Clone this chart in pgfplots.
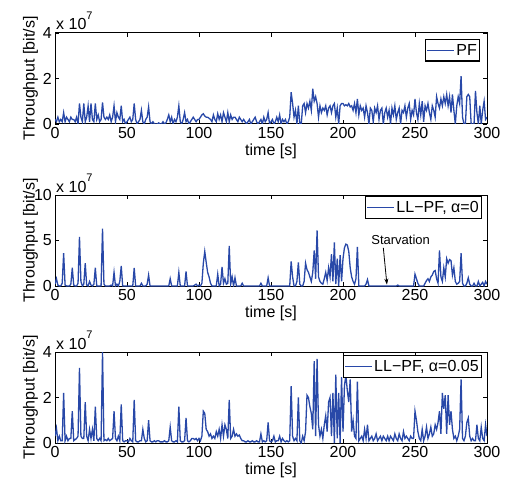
\documentclass[border=0pt]{standalone}
\usepackage{fontspec}
\setmainfont{Liberation Sans}
\usepackage{pgfplots}
\usepackage{pgfplotstable}
\pgfplotsset{compat=1.18}
\usetikzlibrary{arrows.meta}
\definecolor{mblue}{RGB}{40,72,168}

% throughput per second, in units of 1e7 bit/s, t = 0..300
\pgfplotstableread[header=false,row sep=\\]{
0.2\\0.1\\0.3\\0.1\\0.2\\0.1\\0.5\\0.1\\0.3\\0.2\\
0.1\\0.3\\0.2\\0.2\\0.1\\0.3\\0.0\\0.9\\0.3\\0.1\\
0.9\\0.1\\0.3\\0.8\\0.1\\0.9\\0.2\\0.1\\0.9\\0.2\\
0.4\\0.1\\0.2\\0.95\\0.3\\0.2\\0.3\\0.2\\0.4\\0.1\\
0.3\\0.8\\0.1\\0.5\\0.3\\0.2\\0.8\\0.1\\0.2\\0.0\\
0.1\\0.2\\0.3\\0.1\\0.2\\0.9\\0.2\\0.0\\0.1\\0.2\\
0.6\\0.1\\0.0\\0.2\\0.3\\0.75\\0.1\\0.0\\0.1\\0.0\\
0.0\\0.0\\0.05\\0.0\\0.0\\0.1\\0.0\\0.05\\0.2\\0.4\\
0.1\\0.3\\0.0\\0.2\\0.1\\0.3\\0.8\\0.1\\0.0\\0.2\\
0.5\\0.1\\0.2\\0.0\\0.1\\0.2\\0.3\\0.2\\0.1\\0.2\\
0.2\\0.3\\0.4\\0.45\\0.35\\0.3\\0.3\\0.25\\0.2\\0.1\\
0.4\\0.2\\0.1\\0.45\\0.2\\0.4\\0.1\\0.5\\0.3\\0.1\\
0.5\\0.1\\0.4\\0.2\\0.3\\0.3\\0.2\\0.1\\0.3\\0.2\\
0.1\\0.2\\0.1\\0.0\\0.1\\0.2\\0.0\\0.1\\0.2\\0.3\\
0.1\\0.0\\0.1\\0.2\\0.0\\0.3\\0.1\\0.2\\0.5\\0.0\\
0.1\\0.2\\0.0\\0.1\\0.3\\0.1\\0.4\\0.0\\0.2\\0.1\\
0.2\\0.0\\0.1\\0.3\\1.4\\0.9\\0.3\\0.6\\0.0\\0.8\\
0.0\\0.0\\0.8\\0.9\\0.5\\0.9\\0.7\\1.0\\0.6\\1.55\\
1.0\\1.2\\0.9\\0.3\\0.8\\0.5\\0.7\\0.6\\0.8\\0.4\\
0.7\\0.8\\0.5\\0.8\\0.9\\0.3\\0.7\\0.0\\0.8\\0.9\\
0.9\\0.8\\0.85\\0.8\\0.9\\0.75\\0.8\\0.6\\0.9\\0.5\\
1.1\\0.4\\0.8\\0.6\\0.7\\0.3\\0.8\\0.5\\0.0\\0.7\\
0.6\\0.1\\0.7\\0.5\\0.8\\0.2\\0.6\\0.7\\0.0\\0.5\\
0.7\\0.3\\0.6\\0.0\\0.7\\0.4\\0.8\\0.2\\0.5\\0.7\\
0.0\\0.6\\0.5\\0.8\\0.3\\0.7\\0.9\\0.2\\0.6\\0.4\\
1.1\\0.5\\0.2\\0.9\\0.4\\1.0\\0.1\\0.8\\0.6\\0.9\\
0.5\\0.2\\0.8\\0.6\\0.3\\1.2\\0.9\\0.7\\1.1\\0.8\\
1.2\\0.9\\1.3\\0.8\\1.2\\0.5\\1.3\\0.6\\0.0\\0.8\\
1.2\\0.9\\2.1\\0.3\\0.0\\0.0\\1.2\\1.3\\1.2\\0.0\\
0.0\\0.0\\1.45\\0.5\\0.0\\0.8\\0.0\\0.6\\1.0\\0.2\\
0.3\\
}\pfdata

\pgfplotstableread[header=false,row sep=\\]{
0.2\\0.8\\0.1\\0\\0\\0.3\\3.6\\0.1\\0\\0\\
0\\0.2\\2.0\\0.1\\0\\0\\0.3\\5.4\\0.5\\0\\
0.2\\2.5\\0.1\\0\\0.5\\0.1\\0\\0.2\\2.0\\0\\
0\\0\\0\\6.3\\0.2\\0\\0\\0\\0\\0.1\\
0\\1.5\\0\\0.2\\0\\0.5\\2.2\\0\\0\\0\\
0\\0\\0\\0\\0\\2.0\\0\\0\\0\\0\\
0.3\\0\\0\\0\\0.2\\1.2\\0\\0\\0\\0\\
0\\0\\0\\0\\0\\0\\0\\0\\0\\0\\
0.8\\0\\0\\0\\0\\0\\1.5\\0\\0\\0\\
0\\1.6\\0\\0\\0\\0\\0\\0.1\\0.2\\0\\
0.1\\0\\0.3\\2.5\\3.8\\2.6\\1.5\\1.0\\0.3\\0\\
0\\0\\0\\1.3\\0\\0.2\\2.1\\0.3\\0.8\\0.2\\
0.3\\4.4\\0.2\\1.0\\0\\0.9\\0\\0\\0\\0\\
0.3\\0\\0\\0\\0\\0\\0\\0\\0\\0\\
0\\0\\0\\0.3\\0\\0\\0\\0\\0.9\\0\\
0\\0\\0\\0\\0\\0\\0\\0\\0\\0\\
0\\0\\0\\0\\2.7\\1.0\\0\\0\\0.5\\2.6\\
0.2\\0\\0\\0.5\\2.5\\1.8\\1.5\\1.0\\0.5\\1.5\\
3.9\\0.8\\6.1\\1.0\\0.5\\0.3\\0.2\\0.8\\1.5\\0.6\\
2.0\\1.0\\3.5\\0.5\\4.8\\0.2\\3.0\\0\\3.4\\0.5\\
3.0\\4.2\\4.6\\4.5\\3.8\\2.0\\1.0\\0.5\\0.2\\0.8\\
4.3\\0\\0\\0\\0\\0\\0.2\\0.7\\0\\0\\
0\\0\\0\\0\\0\\0\\0\\0\\0\\0\\
0\\0\\0\\0\\0\\0\\0\\0\\0.1\\0\\
0\\0\\0\\0\\0\\0\\0\\0\\0\\0\\
1.3\\0.8\\0.3\\0\\0\\0\\0\\0.3\\0.6\\0.8\\
0.5\\1.0\\1.2\\1.6\\1.7\\0.8\\0.3\\3.9\\1.0\\0.5\\
2.0\\1.0\\3.0\\2.5\\2.9\\2.8\\1.2\\2.0\\0.5\\0.2\\
0.3\\0.5\\3.6\\0.3\\0\\0\\0.3\\0.9\\0.2\\0\\
0\\0.3\\0\\0\\0.5\\0\\0.2\\0.4\\0\\0.5\\
0.2\\
}\llzero

\pgfplotstableread[header=false,row sep=\\]{
0.3\\0.65\\0.1\\0.3\\0.1\\0.1\\2.2\\0.1\\0.3\\0.1\\
0.2\\0.2\\1.4\\0.1\\0.15\\0.2\\0.3\\3.3\\0.3\\0.2\\
0.2\\1.8\\0.3\\0.1\\0.6\\0.2\\0.6\\0.1\\1.6\\0.2\\
0.1\\0.2\\0.1\\4.0\\0.1\\0.15\\0.1\\0.2\\0.1\\0.15\\
0.2\\1.4\\0.2\\0.1\\0.3\\0.1\\1.7\\0.1\\0.05\\0.1\\
0.1\\0.05\\0.2\\0.1\\0.05\\1.9\\0.1\\0.05\\0.05\\0.1\\
0.1\\0.6\\0.2\\0.05\\0.1\\1.0\\0.1\\0.05\\0.05\\0.1\\
0.05\\0.1\\0.1\\0.05\\0.05\\0.05\\0.1\\0.05\\0.05\\0.1\\
0.7\\0.1\\0.05\\0.05\\0.1\\0.05\\1.6\\0.1\\0.05\\0.05\\
0.1\\1.1\\0.1\\0.05\\0.1\\0.2\\0.2\\0.15\\0.2\\0.1\\
0.2\\0.1\\0.3\\1.4\\1.3\\0.6\\0.5\\0.3\\0.4\\0.2\\
0.3\\0.2\\0.5\\0.3\\0.6\\0.2\\0.8\\0.3\\0.8\\0.6\\
0.2\\1.9\\0.2\\0.3\\0.6\\0.3\\0.4\\0.3\\0.35\\0.2\\
0.1\\0.1\\0.05\\0.05\\0.1\\0.05\\0.05\\0.1\\0.05\\0.05\\
0.1\\0.05\\0.05\\0.4\\0.05\\0.1\\0.05\\0.1\\0.9\\0.1\\
0.05\\0.1\\0.3\\0.05\\0.1\\0.1\\0.3\\0.05\\0.2\\0.1\\
0.05\\0.1\\0.05\\0.1\\2.5\\0.3\\0.1\\0.2\\0.1\\2.0\\
0.1\\0.0\\0.3\\0.1\\0.5\\2.1\\2.0\\1.6\\1.3\\0.6\\
3.6\\0.3\\3.7\\0.8\\0.3\\0.6\\0.2\\0.8\\1.2\\0.5\\
1.8\\2.0\\0.3\\2.2\\0.0\\3.0\\0.2\\2.2\\0.0\\2.9\\
0.5\\2.5\\3.0\\2.3\\1.8\\2.8\\0.5\\1.0\\0.3\\0.2\\
2.7\\0.1\\0.2\\0.3\\0.1\\0.6\\0.2\\0.8\\0.1\\0.2\\
0.3\\0.1\\0.2\\0.4\\0.1\\0.2\\0.3\\0.1\\0.3\\0.2\\
0.1\\0.3\\0.1\\0.3\\0.2\\0.1\\0.4\\0.2\\0.1\\0.4\\
0.2\\0.1\\0.5\\0.2\\0.3\\0.2\\0.1\\0.3\\0.2\\0.2\\
1.4\\1.0\\0.5\\0.2\\0.1\\0.6\\0.1\\0.3\\0.7\\0.2\\
0.4\\0.7\\0.3\\0.4\\0.8\\0.6\\0.9\\1.4\\0.4\\2.2\\
1.5\\2.1\\0.4\\2.1\\0.8\\1.4\\0.6\\0.2\\0.3\\0.1\\
0.3\\0.6\\2.8\\0.2\\0.1\\0.3\\0.9\\1.1\\0.3\\0.1\\
0.2\\0.1\\0.1\\0.8\\0.2\\0.1\\0.7\\0.2\\0.1\\0.8\\
0.3\\
}\llfive

\pgfplotsset{
  panel/.style={
    width=432pt, height=91pt, scale only axis,
    xmin=0, xmax=300, xtick={0,50,...,300}, ymin=0,
    tick align=inside, major tick length=4pt,
    axis line style={line width=1pt},
    every tick/.style={black, line width=0.8pt},
    /pgf/number format/assume math mode=true,
    tick label style={font=\fontsize{16}{18}\selectfont, inner sep=0pt},
    xticklabel style={yshift=-3pt},
    yticklabel style={xshift=-3pt},
    label style={font=\fontsize{16}{18}\selectfont, inner sep=0pt},
    xlabel={time [s]},
    ylabel={Throughput [bit/s]},
    xlabel style={at={(axis description cs:0.5,0)}, anchor=north, yshift=-20pt},
    ylabel style={at={(axis description cs:-0.039,0.5)}, anchor=south},
    legend cell align=left,
    legend style={font=\fontsize{16}{18}\selectfont, draw=black, line width=1.3pt,
      fill=white, inner xsep=1pt, inner ysep=3pt, nodes={inner sep=1.5pt}},
    legend image code/.code={\draw[#1] (0pt,0pt) -- (27pt,0pt);},
  },
  exps/.style={
    after end axis/.code={
      \node[anchor=base west, inner sep=0pt, font=\fontsize{16}{18}\selectfont]
        at ([xshift=1pt,yshift=3pt]rel axis cs:0,1) {x 10\raisebox{10.5pt}{\fontsize{11}{11}\selectfont 7}};
    }
  },
  series/.style={mblue, line width=1.3pt, mark=none, solid}
}

\begin{document}
\begin{tikzpicture}
\useasboundingbox (-55pt,33pt) rectangle (450pt,-448pt);

\begin{axis}[panel, exps, at={(0pt,0pt)}, anchor=north west,
  ymax=4, ytick={0,2,4},
  legend style={at={(rel axis cs:0.984,0.935)}, anchor=north east}]
\addplot[series] table[x expr=\coordindex, y index=0] {\pfdata};
\addlegendentry{PF}
\end{axis}

\begin{axis}[panel, exps, at={(0pt,-162pt)}, anchor=north west,
  ymax=10, ytick={0,5,10},
  legend style={at={(rel axis cs:0.988,0.99)}, anchor=north east}]
\addplot[series] table[x expr=\coordindex, y index=0] {\llzero};
\addlegendentry{LL−PF, α=0}
\draw[-{Stealth[length=6pt,width=4pt]}, line width=0.8pt, black]
  (axis cs:228,4.2) -- (axis cs:230.5,0.15);
\node[font=\fontsize{13}{15}\selectfont, inner sep=0pt] at (axis cs:240,5.05) {Starvation};
\end{axis}

\begin{axis}[panel, exps, at={(0pt,-319pt)}, anchor=north west,
  ymax=4, ytick={0,2,4},
  legend style={at={(rel axis cs:0.988,0.967)}, anchor=north east}]
\addplot[series] table[x expr=\coordindex, y index=0] {\llfive};
\addlegendentry{LL−PF, α=0.05}
\end{axis}
\end{tikzpicture}
\end{document}
